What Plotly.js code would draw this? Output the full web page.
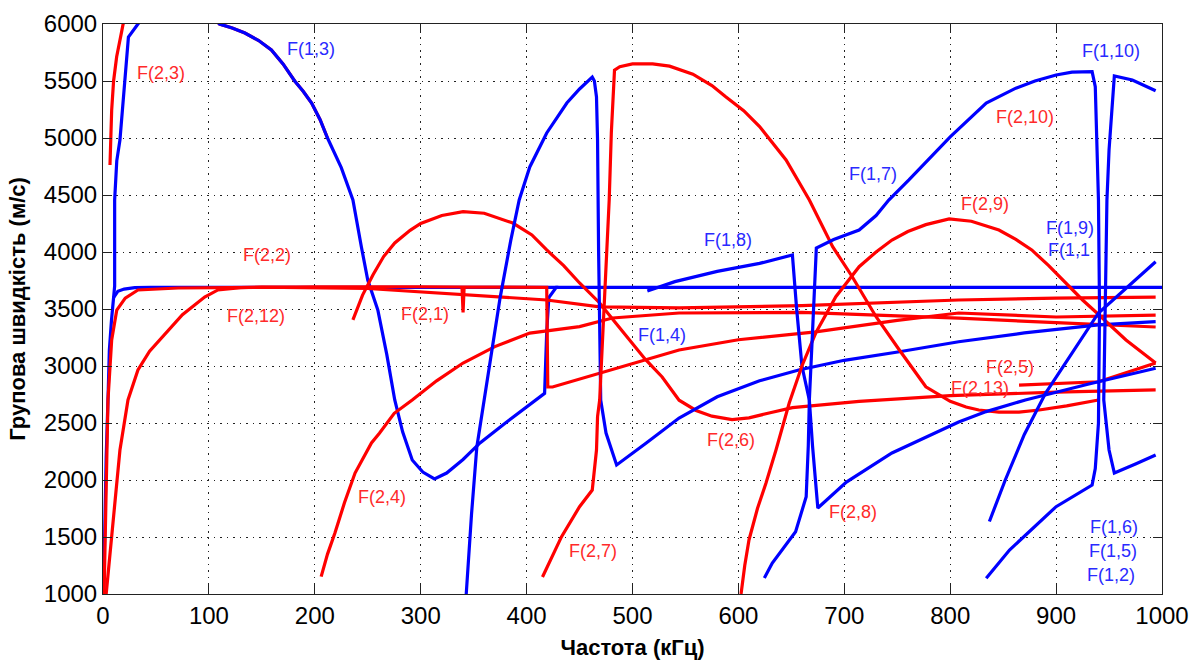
<!DOCTYPE html>
<html><head><meta charset="utf-8">
<script src="https://cdn.plot.ly/plotly-3.0.1.min.js"></script>
<style>html,body{margin:0;padding:0;background:#fff}#plot{width:1192px;height:660px}</style>
</head><body><div id="plot"></div>
<script>
// ---- Blue curves F(1,n): frequency (kHz) / group velocity (m/s)
const b1_f = [0.5,1.5,3,5,6,8,10,11,11,13,16,19,24,33,60,90,110,122,134,147,159,170,181,189,197,205,212,225,236,244,250,259.5,268,275.5,283,292,302,313,324.5,340,356,380,400,417,419,421,428,1000];
const b1_v = [1000,1600,2200,2800,3140,3400,3600,3700,4456,4800,4982,5333,5886,6000,6300,6200,6000,5965,5921,5855,5772,5650,5500,5410,5307,5160,5000,4740,4456,4044,3754,3491,3100,2702,2420,2175,2070,2009,2061,2180,2325,2500,2640,2760,3300,3600,3690,3690];
const b2_f = [10,14,20,30,45,430];
const b2_v = [3600,3655,3675,3688,3690,3690];
const b3_f = [514,540,580,620,651,655,660,667,666,664,654,632,624.5];
const b3_v = [3658,3740,3830,3900,3974,3500,3000,2700,2300,1853,1546,1272,1140];
const b4_f = [994,930,871,834,808,745,702,675,670,667,670,673.6,690,714,730,742,761,780,800,834,862,880,900,915,934,937,940,941,940,937,934,900,856,834];
const b4_v = [2980,2840,2702,2600,2509,2237,1982,1754,2300,2700,3300,4035,4110,4193,4320,4456,4632,4820,5010,5307,5437,5500,5553,5578,5582,5450,4456,3500,2500,2100,1956,1766,1386,1138];
const b5_f = [994,972,955,950,948,945,950,955,975,994];
const b5_v = [5415,5509,5544,4895,4456,2702,2263,2061,2140,2219];
const b6_f = [343,348,353,360,368,375,385,393,403,419,438,450,462,464,466,467,468,469,470,475,485,513,544,580,620,657,670,700,752,808,870,940,994];
const b6_v = [1000,1700,2290,2702,3200,3600,4100,4456,4746,5044,5307,5430,5535,5500,5360,4982,4000,3000,2700,2412,2132,2325,2544,2730,2870,2965,2990,3050,3125,3213,3290,3360,3389];
const b7_f = [837,852,870,890,940,994];
const b7_v = [1636,2000,2400,2760,3465,3915];

// ---- Red curves F(2,n)
const r1_f = [6.6,7.5,8.2,10,12.9,17.6,19,40,90,110,122,134,147,159,170,181,189,197,205,212];
const r1_v = [4763,5000,5245,5500,5713,5933,6000,6400,6200,6000,5965,5921,5855,5772,5650,5500,5410,5307,5160,5000];
const r2_f = [1,3,4.7,8.2,13,21,33,71,200,300,339,340,341,419,420,424.5,469,544,600,673,750,808,900,994];
const r2_v = [1000,2000,2702,3228,3491,3596,3667,3684,3695,3695,3693,3470,3693,3690,2816,2816,2939,3140,3230,3300,3400,3465,3430,3447];
const r3_f = [3,7,11,16,23.6,33,44,55.7,75,96,108.5,130,150,250,300,419,469,544,660,808,900,994];
const r3_v = [1000,1400,1825,2263,2702,2965,3130,3254,3450,3605,3667,3688,3692,3680,3650,3579,3518,3509,3530,3579,3595,3605];
const r4_f = [206,212,219,228,238,253.5,261,275,292,315,340,370,403,450,481,544,660,808,900,994];
const r4_v = [1152,1350,1535,1800,2061,2325,2410,2585,2702,2870,3026,3170,3289,3345,3421,3465,3470,3420,3380,3342];
const r5_f = [236,245,255,265,275.5,290,300,320,340,360,387,405,419,435,450,469,483,497,512,528,544,560,575,594,610,630,651,714,800,900,994];
const r5_v = [3404,3620,3800,3960,4079,4190,4250,4320,4354,4340,4254,4150,4018,3880,3728,3553,3390,3228,3060,2904,2700,2610,2560,2530,2545,2590,2635,2690,2740,2770,2790];
const r6_f = [415,433,450,462,466,467,469,478,480,483,488,500,519,535,557,575,588,605,620,645,667,689,707.5,730,752,777,800,815,827,846,865,884,910,940];
const r6_v = [1149,1503,1766,1912,2263,2556,2702,4456,5044,5596,5626,5650,5650,5630,5560,5460,5362,5240,5100,4807,4456,4047,3783,3432,3140,2818,2690,2640,2614,2595,2595,2614,2650,2702];
const r7_f = [602.5,606,610,618,626,635.5,648,660,673,692,714,730,745,760,777,799,820,846,862,877,893,909,925,940.6,966,994];
const r7_v = [1000,1250,1474,1750,1971,2263,2675,3000,3289,3608,3871,4000,4105,4180,4240,4290,4270,4193,4110,4018,3880,3726,3579,3447,3228,3026];
const r8_f = [865,940,994];
const r8_v = [2833,2862,3026];

// ---- Curve labels
const lab_text = ["F(1,3)","F(2,3)","F(2,2)","F(2,12)","F(2,1)","F(2,4)","F(2,7)","F(1,4)","F(1,8)","F(2,6)","F(2,8)","F(1,7)","F(2,9)","F(2,10)","F(1,10)","F(1,9)","F(1,1","F(2,5)","F(2,13)","F(1,6)","F(1,5)","F(1,2)"];
const lab_f = [196,55,155,144,304,263,463,528,590,593,708,727,833,871,952,913,912,856,828,955,954,952];
const lab_v = [5780,5570,3974,3440,3455,1850,1380,3272,4105,2351,1720,4685,4420,5180,5760,4211,4018,2990,2810,1590,1380,1165];
const lab_c = ["b","r","r","r","r","r","r","b","b","r","r","b","r","r","b","b","b","r","r","b","b","b"];

const RED = "#ff0000", BLUE = "#0000ff", LW = 3.2;
const FONT = "Liberation Sans, Arial, Helvetica, sans-serif";
function tr(f, v, c){ return {x:f, y:v, type:"scatter", mode:"lines", line:{color:c, width:LW}, hoverinfo:"skip", showlegend:false}; }

const data = [
  tr(b2_f,b2_v,BLUE), tr(r1_f,r1_v,RED), tr(b1_f,b1_v,BLUE),
  tr(r2_f,r2_v,RED), tr(r3_f,r3_v,RED), tr(r4_f,r4_v,RED), tr(r5_f,r5_v,RED),
  tr(b6_f,b6_v,BLUE), tr(r6_f,r6_v,RED), tr(b3_f,b3_v,BLUE), tr(r7_f,r7_v,RED),
  tr(r8_f,r8_v,RED), tr(b4_f,b4_v,BLUE), tr(b5_f,b5_v,BLUE), tr(b7_f,b7_v,BLUE)
];

const annotations = lab_text.map((t,i)=>({x:lab_f[i], y:lab_v[i], xref:"x", yref:"y", text:t, showarrow:false,
  font:{family:FONT, size:18, color: lab_c[i]==="r" ? "#ff2a2a" : "#2a2aff"}}));

const axisCommon = {showline:true, linecolor:"#222", linewidth:1, mirror:"ticks", ticks:"inside", ticklen:9, tickcolor:"#222",
  showgrid:true, gridcolor:"#222", griddash:"1.5px,5px", gridwidth:1, zeroline:false,
  tickfont:{family:FONT, size:24, color:"#000"}};

const layout = {
  width:1192, height:660, margin:{l:103, r:30, t:24, b:66}, paper_bgcolor:"#fff", plot_bgcolor:"#fff",
  xaxis:Object.assign({}, axisCommon, {range:[0,1000], dtick:100, tick0:0,
    title:{text:"<b>Частота (кГц)</b>", font:{family:FONT, size:22, color:"#000"}, standoff:12}}),
  yaxis:Object.assign({}, axisCommon, {range:[1000,6000], dtick:500, tick0:0,
    title:{text:"<b>Групова швидкість (м/с)</b>", font:{family:FONT, size:22, color:"#000"}, standoff:12}}),
  annotations: annotations
};
Plotly.newPlot("plot", data, layout, {staticPlot:true, displayModeBar:false});
</script></body></html>
